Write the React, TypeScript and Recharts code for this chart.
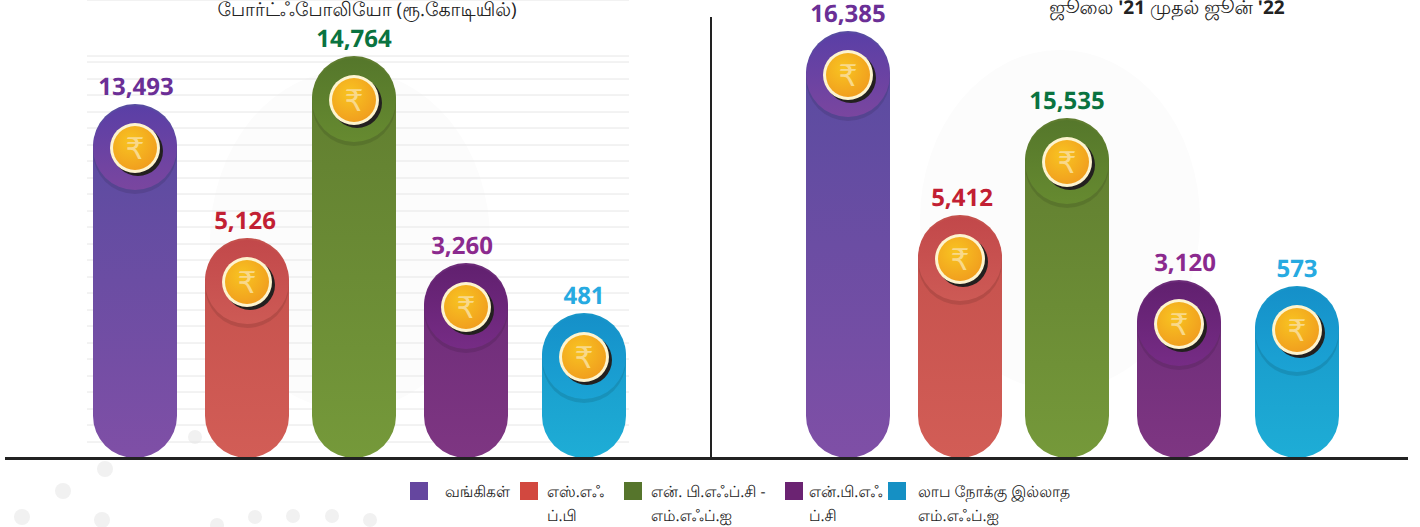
import { Bar, BarChart, CartesianGrid, LabelList, XAxis, YAxis } from "recharts"

const categories = ["வங்கிகள்", "எஸ்.எஃப்.பி", "என்.பி.எஃப்.சி - எம்.எஃப்.ஐ", "என்.பி.எஃப்.சி", "லாப நோக்கு இல்லாத எம்.எஃப்.ஐ"]
const portfolioValues = [13493, 5126, 14764, 3260, 481]
const disbursedValues = [16385, 5412, 15535, 3120, 573]
// the source graphic is not drawn to scale, so bar heights are read off the picture
// separately from the printed figures
const portfolioHeights = [354, 220, 402, 195, 145]
const disbursedHeights = [427, 243, 340, 178, 172]
const gridTicks = [
  16, 33, 49, 66, 82, 99, 115, 132, 148, 165, 181, 198, 214, 231, 247, 264, 280, 297, 313, 330, 346, 363, 379, 396, 402,
]
const legendLines = [["வங்கிகள்"], ["எஸ்.எஃ", "ப்.பி"], ["என். பி.எஃப்.சி -", "எம்.எஃப்.ஐ"], ["என்.பி.எஃ", "ப்.சி"], ["லாப நோக்கு இல்லாத", "எம்.எஃப்.ஐ"]]

const barColors = [
  { top: "#574ba0", bottom: "#7f4fa6", head: "#5a3fa6", headLow: "#7a469f", swatch: "#65469f", label: "#6b2f96" },
  { top: "#c4504c", bottom: "#d25d56", head: "#c2484a", headLow: "#cd5a55", swatch: "#d2483f", label: "#c21f33" },
  { top: "#5f7c2f", bottom: "#75993a", head: "#55772b", headLow: "#668a30", swatch: "#56752c", label: "#0a7340" },
  { top: "#6b2b78", bottom: "#7e3682", head: "#61206f", headLow: "#762c85", swatch: "#6b2372", label: "#8b2a8e" },
  { top: "#1795c8", bottom: "#1eadd6", head: "#1590c9", headLow: "#1ba3d4", swatch: "#1590c4", label: "#27aae1" },
]
const barNudge = [0, 0, -5, -5, 1]
const watermarkDots = [
  [195, 437, 7], [105, 469, 8], [63, 491, 8], [22, 517, 8], [102, 520, 8], [217, 525, 7],
  [255, 517, 7], [293, 516, 7], [332, 516, 7], [370, 520, 7], [128, 424, 5],
]
const fontFamily = "'Open Sans', 'Noto Sans', sans-serif"

function PillBar(props: any) {
  const { x, y, width, height, index } = props
  const left = x + barNudge[index]
  const r = width / 2
  const cx = left + r
  const headY = y + r + 2
  const coinR = 25
  return (
    <g>
      <rect x={left} y={y} width={width} height={height} rx={r} ry={r} fill={`url(#body${index})`} />
      <circle cx={cx} cy={headY + 4} r={r} fill="#000" opacity={0.1} />
      <circle cx={cx} cy={headY} r={r} fill={`url(#head${index})`} />
      <circle cx={cx + 3} cy={headY + 3} r={coinR} fill="#23201f" />
      <circle cx={cx} cy={headY} r={coinR} fill="#fdf4cf" />
      <circle cx={cx} cy={headY} r={coinR - 3} fill="url(#coin)" />
      <text x={cx} y={headY + 11} textAnchor="middle" fontSize={30} fontFamily="DejaVu Sans" fill="#f9d98a">
        ₹
      </text>
    </g>
  )
}

function makeValueLabel(labelNudge: number[]) {
  return function ValueLabel(props: any) {
    const { x, y, width, value, index } = props
    return (
      <text
        x={x + width / 2 + barNudge[index] + labelNudge[index]}
        y={y - 9}
        textAnchor="middle"
        fontSize={24}
        fontWeight={700}
        fontFamily={fontFamily}
        fill={barColors[index].label}
      >
        {value.toLocaleString("en-US")}
      </text>
    )
  }
}

function Panel({
  id,
  left,
  values,
  heights,
  marginLeft,
  marginRight,
  gridX,
  gridWidth,
  labelNudge,
}: {
  id: string
  left: number
  values: number[]
  heights: number[]
  marginLeft: number
  marginRight: number
  gridX: number
  gridWidth: number
  labelNudge: number[]
}) {
  const rows = categories.map((name, i) => ({ name, height: heights[i], value: values[i] }))
  const ValueLabel = makeValueLabel(labelNudge)
  return (
    <div style={{ position: "absolute", left, top: 0 }}>
      <BarChart
        id={id}
        width={710}
        height={470}
        data={rows}
        margin={{ top: 0, right: marginRight, bottom: 12, left: marginLeft }}
        barSize={84}
      >
        <defs>
          {barColors.map((c, i) => (
            <linearGradient key={i} id={`body${i}`} x1="0" y1="0" x2="0" y2="1">
              <stop offset="0%" stopColor={c.top} />
              <stop offset="100%" stopColor={c.bottom} />
            </linearGradient>
          ))}
          {barColors.map((c, i) => (
            <linearGradient key={i} id={`head${i}`} x1="0" y1="0" x2="0" y2="1">
              <stop offset="0%" stopColor={c.head} />
              <stop offset="100%" stopColor={c.headLow} />
            </linearGradient>
          ))}
          <radialGradient id="coin" cx="40%" cy="35%" r="75%">
            <stop offset="0%" stopColor="#f8c421" />
            <stop offset="100%" stopColor="#f09a1e" />
          </radialGradient>
        </defs>
        <CartesianGrid vertical={false} stroke="#e6e6e6" x={gridX} width={gridWidth} />
        <XAxis dataKey="name" hide />
        <YAxis hide domain={[0, 458]} ticks={gridTicks} interval={0} />
        <Bar dataKey="height" shape={<PillBar />} isAnimationActive={false}>
          <LabelList dataKey="value" content={<ValueLabel />} />
        </Bar>
      </BarChart>
    </div>
  )
}

const legendX = [
  { swatch: 410, text: 445 },
  { swatch: 520, text: 547 },
  { swatch: 624, text: 651 },
  { swatch: 785, text: 809 },
  { swatch: 888, text: 918 },
]

export default function App() {
  return (
    <div style={{ position: "absolute", left: 0, top: 0, width: 1420, height: 527, overflow: "hidden", background: "#fff", fontFamily, textRendering: "geometricPrecision" }}>
      <svg width={1420} height={527} style={{ position: "absolute", left: 0, top: 0 }}>
        <ellipse cx={350} cy={240} rx={140} ry={170} fill="#fcfcfc" />
        <ellipse cx={1060} cy={220} rx={140} ry={170} fill="#fcfcfc" />
        {watermarkDots.map(([cx, cy, r], i) => (
          <circle key={i} cx={cx} cy={cy} r={r} fill="#f1f1f1" />
        ))}
      </svg>
      <Panel id="portfolio" left={0} values={portfolioValues} heights={portfolioHeights} marginLeft={79} marginRight={71} gridX={87} gridWidth={542} labelNudge={[1, -2, 0, -4, 0]} />
      <Panel id="disbursed" left={710} values={disbursedValues} heights={disbursedHeights} marginLeft={82} marginRight={68} gridX={795} gridWidth={543} labelNudge={[0, 2, 0, 6, 0]} />

      <div style={{ position: "absolute", left: 5, top: 457, width: 1403, height: 3, background: "#222" }} />
      <div style={{ position: "absolute", left: 710, top: 17, width: 2, height: 442, background: "#222" }} />

      <div style={{ position: "absolute", left: 0, width: 734, top: 0, textAlign: "center", fontSize: 19, lineHeight: "18px", color: "#222" }}>
        போர்ட்ஃபோலியோ (ரூ.கோடியில்)
      </div>
      <div style={{ position: "absolute", left: 967, width: 400, top: 0, textAlign: "center", fontSize: 19, lineHeight: "14px", color: "#222" }}>
        ஜூலை <b>'21</b> முதல் ஜூன் <b>'22</b>
      </div>

      {legendLines.map((lines, i) => (
        <div key={i}>
          <div style={{ position: "absolute", left: legendX[i].swatch, top: 482, width: 18, height: 18, background: barColors[i].swatch }} />
          <div style={{ position: "absolute", left: legendX[i].text, top: 480, fontSize: 15.5, lineHeight: "23.5px", color: "#222", whiteSpace: "nowrap" }}>
            {lines.map((l) => (
              <div key={l}>{l}</div>
            ))}
          </div>
        </div>
      ))}
    </div>
  )
}
